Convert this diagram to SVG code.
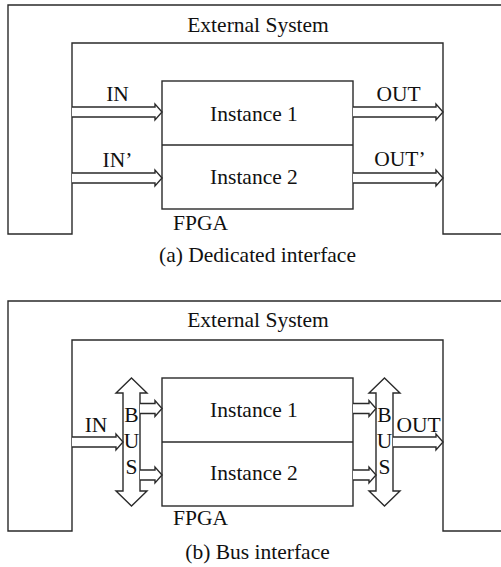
<svg xmlns="http://www.w3.org/2000/svg" width="501" height="567" viewBox="0 0 501 567">
<style>
.ln{fill:none;stroke:#2a2a2a;stroke-width:1.4;stroke-linejoin:miter}
.ar{fill:#fff;stroke:#2a2a2a;stroke-width:1.4;stroke-linejoin:miter}
.bx{fill:#fff;stroke:#2a2a2a;stroke-width:1.4}
text{font-family:'Liberation Serif','Times New Roman',Times,serif;font-size:21.5px;fill:#111}
.m{text-anchor:middle}
</style>
<rect width="501" height="567" fill="#fff"/>

<!-- Panel (a) -->
<g id="a-external">
<path class="ln" d="M8,234 V5 H502 V234 H443 V43 H72 V234 Z"/>
<text class="m" x="258" y="32" font-family="Liberation Serif, serif">External System</text>
</g>
<g id="a-fpga">
<rect class="bx" x="162" y="81" width="191" height="128"/>
<line class="ln" x1="162" y1="145" x2="353" y2="145"/>
<text x="173" y="230">FPGA</text>
</g>
<g id="a-instance1"><text class="m" x="254" y="121">Instance 1</text></g>
<g id="a-instance2"><text class="m" x="254" y="184">Instance 2</text></g>
<g id="a-connectors">
<path class="ar" d="M72,107 H155 V104 L162,112 L155,120 V117 H72"/>
<path class="ar" d="M72,173 H155 V170 L162,178 L155,186 V183 H72"/>
<path class="ar" d="M353,107 H436 V104 L443,112 L436,120 V117 H353"/>
<path class="ar" d="M353,173 H436 V170 L443,178 L436,186 V183 H353"/>
<text class="m" x="117.5" y="101">IN</text>
<text class="m" x="117.5" y="167">IN’</text>
<text class="m" x="398.5" y="101">OUT</text>
<text class="m" x="400" y="166">OUT’</text>
</g>
<text class="m" x="257.5" y="262">(a) Dedicated interface</text>

<!-- Panel (b) -->
<g id="b-external">
<path class="ln" d="M8,531 V301 H502 V531 H443 V340 H72 V531 Z"/>
<text class="m" x="258" y="327">External System</text>
</g>
<g id="b-fpga">
<rect class="bx" x="162" y="378" width="191" height="128"/>
<line class="ln" x1="162" y1="442" x2="353" y2="442"/>
<text x="173" y="525">FPGA</text>
</g>
<g id="b-instance1"><text class="m" x="254" y="417">Instance 1</text></g>
<g id="b-instance2"><text class="m" x="254" y="480">Instance 2</text></g>
<g id="b-bus-left">
<path class="ar" d="M131.5,378 L147,393 H140 V491 H147 L131.5,506 L116,491 H123 V393 H116 Z"/>
<text class="m" x="131.5" y="422">B</text>
<text class="m" x="131.5" y="448">U</text>
<text class="m" x="131.5" y="474">S</text>
</g>
<g id="b-bus-right">
<path class="ar" d="M384.5,378 L400,393 H393 V491 H400 L384.5,506 L369,491 H376 V393 H369 Z"/>
<text class="m" x="384.5" y="422">B</text>
<text class="m" x="384.5" y="448">U</text>
<text class="m" x="384.5" y="474">S</text>
</g>
<g id="b-connectors">
<path class="ar" d="M72,437 H116 V434 L123,442 L116,450 V447 H72"/>
<path class="ar" d="M140,403.5 H155 V400.5 L162,408.5 L155,416.5 V413.5 H140"/>
<path class="ar" d="M140,470 H155 V467 L162,475 L155,483 V480 H140"/>
<path class="ar" d="M353,403.5 H369 V400.5 L376,408.5 L369,416.5 V413.5 H353"/>
<path class="ar" d="M353,470 H369 V467 L376,475 L369,483 V480 H353"/>
<path class="ar" d="M393,437 H436 V434 L443,442 L436,450 V447 H393"/>
<text class="m" x="96" y="432">IN</text>
<text class="m" x="418.5" y="432">OUT</text>
</g>
<text class="m" x="257.5" y="559">(b) Bus interface</text>
</svg>
